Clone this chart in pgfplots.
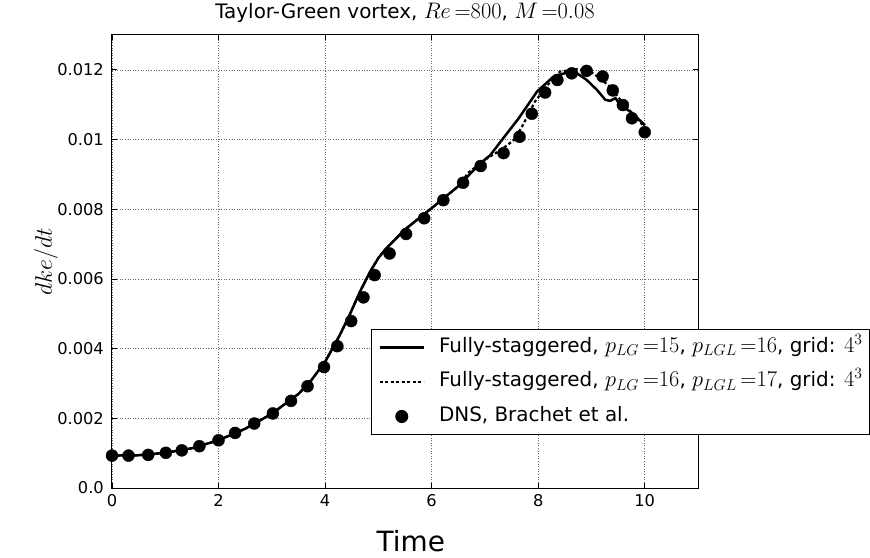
\RequirePackage{fix-cm}
\documentclass[border=0pt]{standalone}
\usepackage{fontspec}
\setmainfont{DejaVu Sans}
\usepackage{pgfplots}
\pgfplotsset{compat=1.18}
\newcommand{\mm}[1]{{\fontsize{22.5}{24}\selectfont$#1$}}
\begin{document}
\begin{tikzpicture}
\begin{axis}[
 scale only axis, width=586bp, height=453bp,
 xmin=0, xmax=11, ymin=0, ymax=0.013,
 xtick={0,2,4,6,8,10}, xticklabels={0,2,4,6,8,10},
 ytick={0,0.002,0.004,0.006,0.008,0.01,0.012},
 yticklabels={0.0,0.002,0.004,0.006,0.008,0.01,0.012},
 scaled y ticks=false, scaled x ticks=false,
 tick align=inside, major tick length=5bp,
 tick style={black, line width=0.8bp},
 axis line style={black, line width=1bp},
 grid=major, major grid style={black!60, line width=0.6bp, dash pattern=on 1bp off 1.6bp},
 ticklabel style={font=\fontsize{16.3}{19}\selectfont, inner sep=0pt},
 xticklabel style={yshift=-6bp},
 yticklabel style={xshift=-8bp},
 title={Taylor-Green vortex, \mm{Re\,{=}800}, \mm{M\,{=}0.08}},
 title style={at={(0.5,1.0243)}, anchor=base, font=\fontsize{20}{24}\selectfont, inner sep=0pt},
 xlabel={Time},
 xlabel style={at={(0.51,-0.1391)}, anchor=base, font=\fontsize{28}{32}\selectfont, inner sep=0pt},
 ylabel={$dke/dt$},
 ylabel style={at={(-0.1126,0.5)}, anchor=center, font=\fontsize{24}{28}\selectfont, inner sep=0pt},
 legend style={at={(0.442,0.351)}, anchor=north west, draw=black, line width=1bp, fill=white,
   font=\fontsize{20}{24}\selectfont, inner xsep=7bp, inner ysep=8bp,
   nodes={inner sep=0pt, text height=15bp, text depth=5bp},
   row sep=14.5bp, column sep=14bp},
 legend cell align=left,
 legend image code/.code={\draw[mark repeat=2,mark phase=2,#1] plot coordinates {(0bp,0bp) (22bp,0bp) (44bp,0bp)};},
]
\addplot[black, line width=2.5bp, mark=none] coordinates {
(0,0.00093) (0.5,0.00094) (1.0,0.00101) (1.5,0.00114) (2.0,0.00137) (2.5,0.00170)
(3.0,0.00213) (3.5,0.00270) (3.72,0.00305) (4.0,0.00362) (4.28,0.00440) (4.47,0.00500)
(4.66,0.00565) (4.85,0.00622) (5.0,0.00660) (5.15,0.00688) (5.5,0.00742) (6.0,0.00803)
(6.5,0.00866) (6.9,0.00930) (7.1,0.00955) (7.35,0.01005) (7.63,0.01060) (7.98,0.01138)
(8.29,0.01181) (8.54,0.01192) (8.73,0.01190) (8.91,0.01171) (9.10,0.01143) (9.26,0.01114)
(9.35,0.01111) (9.45,0.01119) (9.54,0.01099) (9.73,0.01080) (9.98,0.01045) (10.0,0.01040)
};
\addlegendentry{Fully-staggered, \mm{p_{LG}\,{=}15}, \mm{p_{LGL}\,{=}16}, grid: \mm{4^3}}
\addplot[black, line width=2.2bp, dash pattern=on 3bp off 2.5bp, mark=none] coordinates {
(0,0.00093) (0.5,0.00094) (1.0,0.00101) (1.5,0.00114) (2.0,0.00137) (2.5,0.00170)
(3.0,0.00213) (3.5,0.00270) (3.72,0.00305) (4.0,0.00362) (4.28,0.00440) (4.47,0.00500)
(4.66,0.00565) (4.85,0.00622) (5.0,0.00660) (5.15,0.00688) (5.5,0.00742) (6.0,0.00803)
(6.5,0.00866) (6.69,0.00905) (7.04,0.00946) (7.3,0.00970) (7.54,0.00998) (7.7,0.01038)
(7.94,0.01109) (8.2,0.01160) (8.41,0.01195) (8.73,0.01202) (8.98,0.01195) (9.16,0.01176)
(9.38,0.01147) (9.54,0.01114) (9.79,0.01071) (10.0,0.01035)
};
\addlegendentry{Fully-staggered, \mm{p_{LG}\,{=}16}, \mm{p_{LGL}\,{=}17}, grid: \mm{4^3}}
\addplot[black, only marks, mark=*, mark size=6bp] coordinates {
(0.0,0.00093) (0.31,0.00093) (0.68,0.00095) (1.01,0.00101) (1.31,0.00108) (1.64,0.00120)
(2.00,0.00137) (2.31,0.00158) (2.67,0.00185) (3.02,0.00214) (3.36,0.00250) (3.67,0.00292)
(3.98,0.00347) (4.23,0.00407) (4.49,0.00479) (4.72,0.00547) (4.93,0.00611) (5.21,0.00673)
(5.52,0.00729) (5.86,0.00774) (6.22,0.00826) (6.59,0.00876) (6.92,0.00924) (7.35,0.00961)
(7.65,0.01008) (7.88,0.01074) (8.13,0.01135) (8.36,0.01171) (8.63,0.01190) (8.91,0.01197)
(9.21,0.01181) (9.40,0.01141) (9.59,0.01099) (9.76,0.01061) (10.0,0.01021)
};
\addlegendentry{DNS, Brachet et al.}
\end{axis}
\pgfresetboundingbox
\path[use as bounding box] ([shift={(-112bp,-70bp)}]current axis.south west) rectangle ([shift={(172bp,35bp)}]current axis.north east);
\end{tikzpicture}
\end{document}
